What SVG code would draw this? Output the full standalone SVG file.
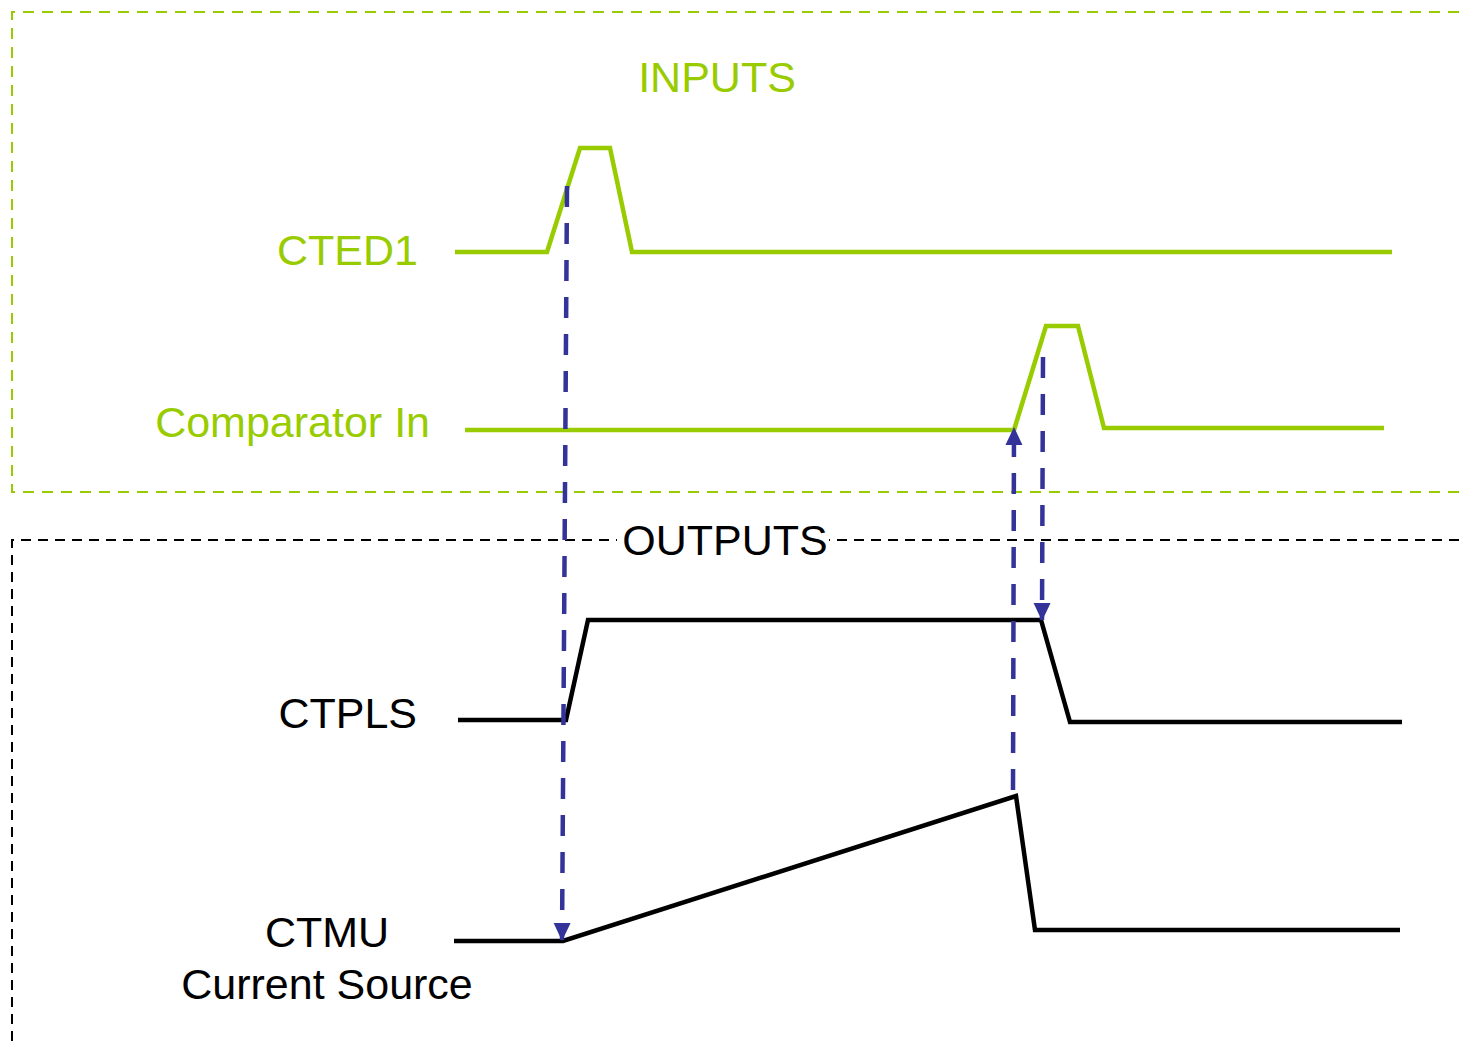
<svg xmlns="http://www.w3.org/2000/svg" width="1459" height="1042" viewBox="0 0 1459 1042">
<style>
.lbl{font-family:"Liberation Sans",Arial,sans-serif;font-size:43px}
.g{fill:#99cc00}
.k{fill:#000}
.wg{fill:none;stroke:#99cc00;stroke-width:4.5;stroke-linejoin:miter}
.wk{fill:none;stroke:#000;stroke-width:4.5;stroke-linejoin:miter}
.arr{fill:none;stroke:#333399;stroke-width:4.5;stroke-dasharray:21 16}
</style>
<defs>
<marker id="ah" markerUnits="userSpaceOnUse" markerWidth="18" markerHeight="18" viewBox="0 0 18 18" refX="17" refY="9" orient="auto">
<path d="M0,0.5 L18,9 L0,17.5 Z" fill="#333399"/>
</marker>
</defs>
<rect width="1459" height="1042" fill="#fff"/>
<g id="inputs-box">
<path d="M1459,12 H12 V492 H1459" fill="none" stroke="#99cc00" stroke-width="2" stroke-dasharray="11 8"/>
</g>
<g id="outputs-box">
<path d="M1459,540 H12 V1042" fill="none" stroke="#000" stroke-width="2" stroke-dasharray="10 7"/>
</g>
<g id="inputs-title"><text class="lbl g" x="717" y="92" text-anchor="middle">INPUTS</text></g>
<g id="outputs-title">
<rect x="617" y="520" width="212" height="40" fill="#fff"/>
<text class="lbl k" x="725" y="555" text-anchor="middle">OUTPUTS</text>
</g>
<g id="cted1">
<text class="lbl g" x="418" y="265" text-anchor="end">CTED1</text>
<polyline class="wg" points="455,252 547,252 580,148 610,148 632,252 1392,252"/>
</g>
<g id="comparator-in">
<text class="lbl g" x="430" y="437" text-anchor="end">Comparator In</text>
<polyline class="wg" points="465,430 1014,430 1046,326 1078,326 1104,428 1384,428"/>
</g>
<g id="ctpls">
<text class="lbl k" x="417" y="728" text-anchor="end">CTPLS</text>
<polyline class="wk" points="458,720 566,720 588,620 1041,620 1070,722 1402,722"/>
</g>
<g id="ctmu">
<text class="lbl k" x="327" y="947" text-anchor="middle">CTMU</text>
<text class="lbl k" x="327" y="999" text-anchor="middle">Current Source</text>
<polyline class="wk" points="454,941 563,941 1016,796 1035,930 1400,930"/>
</g>
<g id="connectors">
<line class="arr" x1="567" y1="186" x2="562" y2="940" marker-end="url(#ah)"/>
<line class="arr" x1="1013" y1="790" x2="1014" y2="428" marker-end="url(#ah)"/>
<line class="arr" x1="1043" y1="357" x2="1042" y2="620" marker-end="url(#ah)"/>
</g>
</svg>
